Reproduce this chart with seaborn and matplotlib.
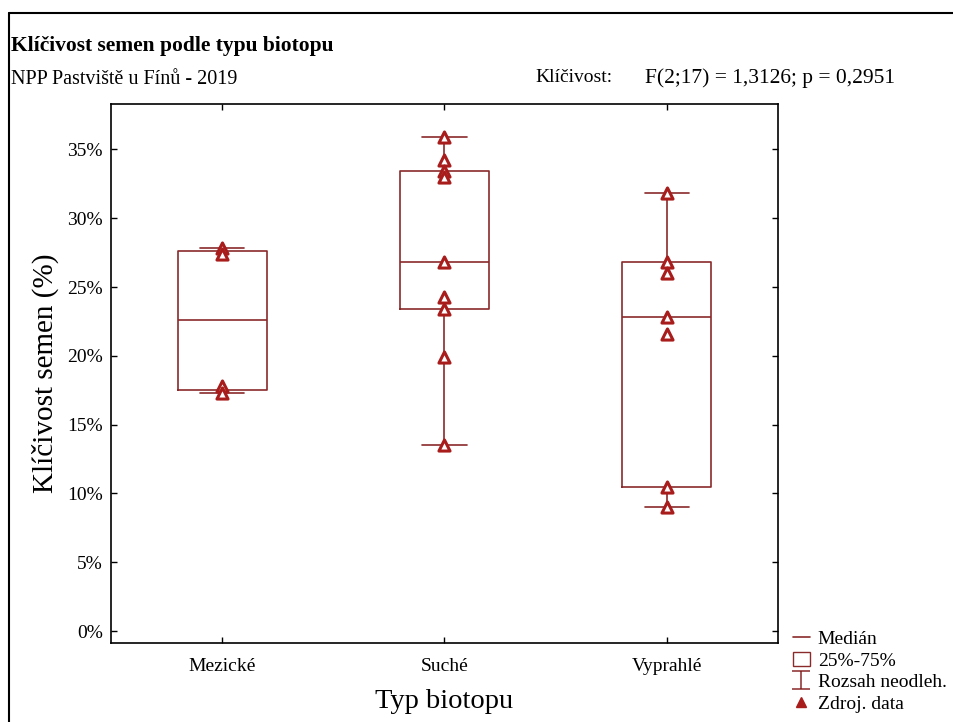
import numpy as np
import pandas as pd
import matplotlib
matplotlib.use("Agg")
import matplotlib.pyplot as plt
import seaborn as sns
from matplotlib.lines import Line2D
from matplotlib.patches import Patch
from matplotlib.path import Path
from matplotlib.ticker import FuncFormatter

# Data (germination %, per biotope type)
biotopy = ["Mezické", "Suché", "Vyprahlé"]
mezicke = [27.8, 27.4, 17.8, 17.3]
suche = [35.9, 34.2, 33.4, 33.0, 26.8, 24.3, 23.4, 19.9, 13.5]
vyprahle = [31.8, 26.8, 26.0, 22.8, 21.6, 10.5, 9.0]

df = pd.DataFrame({
    "biotop": ["Mezické"] * len(mezicke) + ["Suché"] * len(suche) + ["Vyprahlé"] * len(vyprahle),
    "klicivost": mezicke + suche + vyprahle,
})

sns.set_theme(style="white")
plt.rcParams["font.family"] = ["Liberation Serif", "DejaVu Serif"]
plt.rcParams["text.color"] = "black"
plt.rcParams["axes.labelcolor"] = "black"
plt.rcParams["xtick.color"] = "black"
plt.rcParams["ytick.color"] = "black"

c_box = "#8a2a2a"
c_pts = "#a81c1c"

fig = plt.figure(figsize=(9.54, 7.22), dpi=100)
ax = fig.add_axes([111 / 954, 79 / 722, 667 / 954, 539 / 722])

# raw data as triangles
sns.stripplot(data=df, x="biotop", y="klicivost", order=biotopy, jitter=False,
              marker="^", size=8, color="white", edgecolor=c_pts, linewidth=2.2,
              ax=ax, zorder=4)

# box stats: median, 25-75 % (empirical CDF w/ averaging), min-max
stats = []
for name in biotopy:
    v = df.loc[df["biotop"] == name, "klicivost"].to_numpy()
    q1, med, q3 = np.percentile(v, [25, 50, 75], method="averaged_inverted_cdf")
    stats.append({"med": med, "q1": q1, "q3": q3, "whislo": v.min(), "whishi": v.max(),
                  "fliers": [], "label": name})

ax.bxp(stats, positions=[0, 1, 2], widths=0.4, capwidths=0.2, showfliers=False,
       manage_ticks=False,
       boxprops=dict(color=c_box, lw=1.2),
       medianprops=dict(color=c_box, lw=1.2),
       whiskerprops=dict(color=c_box, lw=1.2),
       capprops=dict(color=c_box, lw=1.2))

ax.set_xlim(-0.5, 2.5)
ax.set_ylim(-0.87, 38.3)
ax.set_yticks(np.arange(0, 36, 5))
ax.yaxis.set_major_formatter(FuncFormatter(lambda v, p: f"{int(round(v))}%"))
ax.tick_params(direction="in", length=4, width=1, color="black", labelsize=14,
               top=True, right=True, bottom=True, left=True, pad=6)
ax.tick_params(axis="x", pad=11)
for s in ax.spines.values():
    s.set_color("black")
    s.set_linewidth(1.2)

ax.set_xlabel("Typ biotopu", fontsize=20.5, labelpad=10)
ax.set_ylabel("Klíčivost semen (%)", fontsize=21, labelpad=6)

# titles
fig.text(11 / 954, 1 - 46 / 722, "Klíčivost semen podle typu biotopu",
         fontsize=15.5, fontweight="bold", va="center", ha="left")
fig.text(11 / 954, 1 - 79 / 722, "NPP Pastviště u Fínů - 2019",
         fontsize=14.5, va="center", ha="left")
fig.text(535 / 954, 1 - 78 / 722, "Klíčivost:",
         fontsize=14, va="center", ha="left")
fig.text(895 / 954, 1 - 78 / 722, "F(2;17) = 1,3126; p = 0,2951",
         fontsize=15.5, va="center", ha="right")

# frame lines of the original graph window
fig.add_artist(Line2D([9 / 954, 1], [1 - 13 / 722, 1 - 13 / 722], color="black", lw=1.5))
fig.add_artist(Line2D([9 / 954, 9 / 954], [0, 1 - 13 / 722], color="black", lw=1.5))

# legend
whisk = Path([(-1, 1), (1, 1), (0, 1), (0, -1), (-1, -1), (1, -1)],
             [Path.MOVETO, Path.LINETO, Path.MOVETO, Path.LINETO, Path.MOVETO, Path.LINETO])
handles = [
    Line2D([], [], color=c_box, lw=1.2),
    Patch(facecolor="white", edgecolor=c_box, lw=1.0),
    Line2D([], [], ls="none", marker=whisk, markersize=13, color=c_box, markeredgewidth=1.1),
    Line2D([], [], ls="none", marker="^", markersize=7, markerfacecolor=c_pts,
           markeredgecolor=c_pts),
]
labels = ["Medián", "25%-75%", "Rozsah neodleh.", "Zdroj. data"]
fig.legend(handles, labels, loc="upper left", bbox_to_anchor=(779 / 954, 1 - 617 / 722),
           frameon=False, fontsize=14, handlelength=0.9, handletextpad=0.4,
           labelspacing=0.2, borderpad=0.2)

fig.savefig("out.png", dpi=100)
